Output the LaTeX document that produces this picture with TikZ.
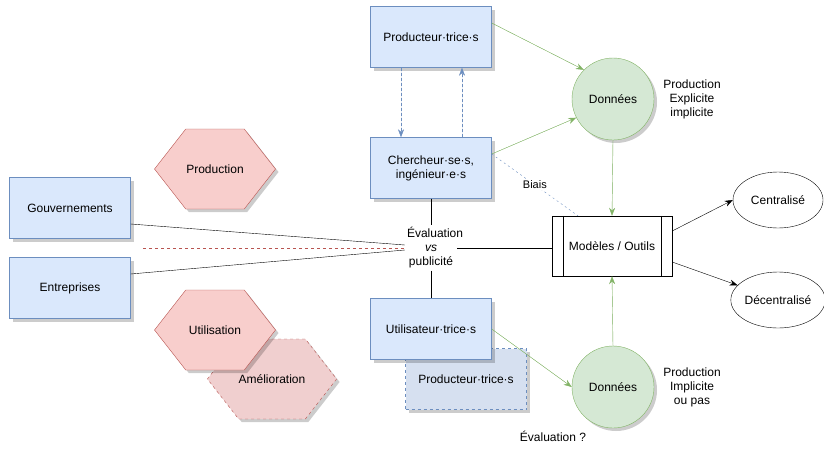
\documentclass[tikz,border=0pt]{standalone}
\usepackage{fontspec}
\setmainfont{Liberation Sans}
\usetikzlibrary{arrows.meta,shapes.geometric,shapes.symbols,shadows}
\definecolor{bleuFond}{HTML}{DAE8FC}
\definecolor{bleuBord}{HTML}{6C8EBF}
\definecolor{bleuPale}{HTML}{D6E0F0}
\definecolor{vertFond}{HTML}{D5E8D4}
\definecolor{vertBord}{HTML}{82B366}
\definecolor{rougeFond}{HTML}{F8CECC}
\definecolor{rougeBord}{HTML}{B85450}
\definecolor{rosePale}{HTML}{F0CFCF}

\begin{document}
\begin{tikzpicture}[x=1pt,y=-1pt,font=\fontsize{12}{14}\selectfont,
	ombre/.style={drop shadow={shadow xshift=3pt,shadow yshift=-3pt,opacity=.2,fill=black}},
	boite/.style={draw=bleuBord,fill=bleuFond,minimum width=121pt,minimum height=61pt,align=center,ombre},
	boitePale/.style={boite,dashed,fill=bleuPale},
	rond/.style={circle,draw=vertBord,fill=vertFond,minimum size=82pt,inner sep=0pt,ombre},
	hexa/.style={signal,signal to=west and east,signal pointer angle=104,draw=rougeBord,fill=rougeFond,minimum width=121pt,minimum height=80pt,inner sep=0pt,ombre},
	hexaPale/.style={hexa,dashed,fill=rosePale},
	processus/.style={draw,minimum width=120pt,minimum height=60pt},
	ovale/.style={ellipse,draw,minimum width=90pt,minimum height=56pt,inner sep=0pt},
	petit/.style={font=\fontsize{11}{14}\selectfont,text=black},
	fleche/.style={-{Stealth[length=8pt,width=6pt]}},
	verte/.style={fleche,draw=vertBord,fill=vertBord},
	bleue/.style={fleche,draw=bleuBord,fill=bleuBord,dash pattern=on 3pt off 2pt}]
	\useasboundingbox (0,0) rectangle (824,450);

	% acteurs
	\node[boite] (prodH) at (431,37) {Producteur·trice·s};
	\node[boite] (cherch) at (431,168) {Chercheur·se·s,\\ingénieur·e·s};
	\node[boitePale] (prodB) at (466,379) {Producteur·trice·s};
	\node[boite] (util) at (431,329) {Utilisateur·trice·s};
	\node[boite] (gouv) at (70,208) {Gouvernements};
	\node[boite] (entr) at (70,288) {Entreprises};

	% usages
	\node[hexa] (hProd) at (215,169) {Production};
	\node[hexaPale] (hAmel) at (272,379) {Amélioration};
	\node[hexa] (hUtil) at (215,330) {Utilisation};

	% donnees et modeles
	\node[rond] (donH) at (613,99) {Données};
	\node[rond] (donB) at (613,387) {Données};
	\node[processus] (mod) at (612,246) {Modèles / Outils};
	\draw ([xshift=11pt]mod.north west) -- ([xshift=11pt]mod.south west);
	\draw ([xshift=-11pt]mod.north east) -- ([xshift=-11pt]mod.south east);
	\node[ovale] (centr) at (778,200) {Centralisé};
	\node[ovale] (decentr) at (778,300) {Décentralisé};

	\node[align=center] (prodExp) at (692,99) {Production\\Explicite\\implicite};
	\node[align=center] (prodImp) at (692,387) {Production\\Implicite\\ou pas};
	\node (evQ) at (553,436) {Évaluation ?};

	% evaluation vs publicite
	\coordinate (rougeA) at (143,248);
	\coordinate (rougeB) at (542,248);
	\draw[rougeBord,dashed] (rougeA) -- (rougeB);
	\node[fill=white,align=center,text width=48pt,inner sep=2pt] (ev) at (431,248) {Évaluation\\\textit{vs}\\publicité};
	\draw (cherch.south) -- (ev.north);
	\draw (ev.south) -- (util.north);
	\draw (ev.east) -- (ev.east -| mod.west);
	\draw ([yshift=-16pt]gouv.east) -- ([yshift=3pt]ev.west);
	\draw ([yshift=14pt]entr.east) -- ([yshift=-2pt]ev.west);

	% fleches
	\draw[verte] ([yshift=14pt]prodH.east) -- (donH.north west);
	\draw[verte] ([yshift=14pt]cherch.east) -- (donH.207);
	\draw[verte] (util.east) -- (donB.west);
	\draw[verte] (donH.south) -- (mod.north);
	\draw[verte] (donB.north) -- (mod.south);
	\draw[bleue] ([xshift=-30pt]prodH.south) -- ([xshift=-30pt]cherch.north);
	\draw[bleue] ([xshift=31pt]cherch.north) -- ([xshift=31pt]prodH.south);
	\draw[bleuBord,dash pattern=on 2pt off 3pt] ([yshift=14pt]cherch.east) -- node[petit,fill=white,inner sep=1pt] (biais) {Biais} ([xshift=-34pt]mod.north);
	\draw[fleche] ([yshift=15pt]mod.east) -- (centr.west);
	\draw[fleche] ([yshift=-16pt]mod.east) -- (decentr.160);
\end{tikzpicture}
\end{document}
